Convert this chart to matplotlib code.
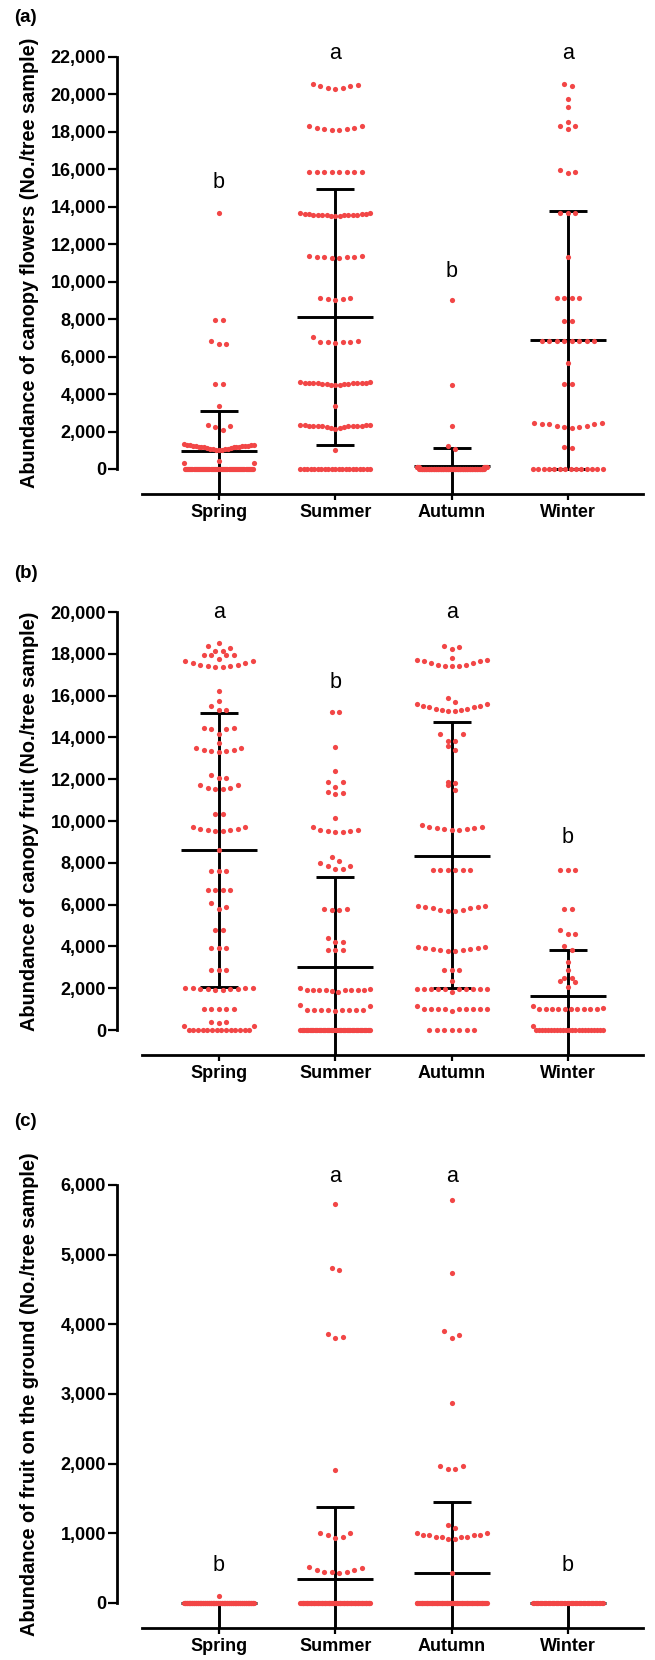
import matplotlib
matplotlib.use("Agg")
import matplotlib.pyplot as plt
import numpy as np

plt.rcParams['font.family'] = ['Liberation Sans', 'DejaVu Sans']

RED = '#F24646'
seasons = ['Spring', 'Summer', 'Autumn', 'Winter']

# (a) canopy flowers: value levels and number of samples at each level
fl_spring_v = [13650, 7950, 6850, 6700, 4550, 3380, 2330, 2300, 2250, 2100, 1310, 1300, 1270, 1240,
               1210, 1180, 1150, 1120, 1090, 1060, 1030, 1000, 430, 310, 0]
fl_spring_n = [1, 2, 1, 2, 2, 1, 1, 1, 1, 1, 1, 2, 2, 2, 3, 3, 3, 2, 2, 2, 2, 1, 1, 2, 65]
fl_summer_v = [20560, 20520, 20430, 20350, 20300, 18320, 18230, 18150, 18100, 15880, 13660, 13620,
               13580, 13540, 13500, 11380, 11340, 11300, 11250, 9130, 9080, 9050, 7040, 6820, 6800,
               6770, 6750, 4620, 4600, 4570, 4540, 4500, 3380, 2350, 2320, 2280, 2230, 2180, 2130,
               1010, 0]
fl_summer_n = [1, 1, 2, 2, 1, 2, 2, 2, 2, 8, 2, 4, 4, 4, 3, 2, 2, 2, 2, 2, 2, 1, 1, 1, 2, 2, 1, 2,
               4, 4, 4, 3, 1, 4, 4, 4, 2, 2, 1, 1, 21]
fl_autumn_v = [9000, 4500, 2300, 1250, 1070, 100, 0]
fl_autumn_n = [1, 1, 1, 1, 1, 8, 92]
fl_winter_v = [20560, 20450, 19740, 19320, 18550, 18320, 18140, 15950, 15850, 15820, 13650, 11340,
               9150, 7900, 6840, 5640, 4540, 2475, 2400, 2300, 2230, 2170, 1190, 1100, 0]
fl_winter_n = [1, 1, 1, 1, 1, 2, 1, 1, 1, 1, 3, 1, 4, 2, 8, 1, 2, 2, 3, 2, 2, 1, 1, 1, 14]
fl_mean = [960, 8105, 160, 6890]
fl_hi = [3110, 14935, 1140, 13770]
fl_lo = [np.nan, 1280, np.nan, 10]
fl_letters = ['b', 'a', 'b', 'a']
fl_letter_y = [15010, 21880, 10270, 21880]

# (b) canopy fruit
fr_spring_v = [18530, 18350, 18260, 18150, 17950, 17730, 17640, 17560, 17480, 17420, 17380, 16240,
               15730, 15480, 15300, 14450, 14380, 14160, 13750, 13480, 13420, 13360, 13320, 12200,
               12040, 11720, 11600, 11510, 10320, 9730, 9640, 9580, 9540, 8610, 7630, 6680, 6100,
               5900, 5800, 4780, 3900, 2870, 2010, 1990, 1970, 1940, 1900, 990, 400, 330, 200, 0]
fr_spring_n = [1, 1, 1, 2, 4, 1, 2, 2, 2, 2, 2, 1, 1, 1, 2, 2, 2, 1, 1, 2, 2, 2, 1, 1, 2, 2, 2, 2,
               2, 2, 2, 2, 2, 1, 3, 4, 1, 1, 1, 2, 3, 3, 2, 2, 2, 2, 2, 5, 2, 1, 2, 14]
fr_summer_v = [15230, 13560, 12390, 11880, 11640, 11400, 11320, 11300, 10130, 9730, 9560, 9520,
               9490, 8270, 8070, 8000, 7830, 7690, 5800, 5750, 4400, 4200, 3850, 2000, 1950, 1900,
               1850, 1800, 1200, 1150, 970, 950, 900, 0]
fr_summer_n = [2, 1, 1, 2, 1, 1, 1, 1, 1, 1, 2, 2, 2, 1, 1, 1, 2, 2, 2, 2, 1, 2, 3, 1, 1, 8, 1, 1,
               1, 1, 2, 6, 1, 54]
fr_autumn_v = [18370, 18310, 18210, 17780, 17700, 17640, 17550, 17480, 17440, 17420, 15900, 15690,
               15580, 15500, 15440, 15380, 15320, 15280, 14160, 13850, 13600, 13400, 11880, 11800,
               11720, 11480, 9810, 9700, 9650, 9600, 9570, 7660, 5950, 5880, 5820, 5760, 5710, 3990,
               3940, 3880, 3840, 3790, 2870, 2360, 1950, 1830, 1150, 990, 900, 0]
fr_autumn_n = [1, 1, 1, 1, 2, 2, 2, 2, 2, 1, 1, 1, 2, 2, 2, 2, 2, 2, 2, 2, 1, 1, 1, 1, 1, 1, 1, 2,
               2, 2, 2, 6, 2, 2, 2, 2, 2, 2, 2, 2, 2, 2, 3, 1, 10, 1, 1, 9, 1, 7]
fr_winter_v = [7660, 5770, 4780, 4590, 4020, 3830, 3270, 2870, 2470, 2350, 2300, 2070, 1150, 1050,
               990, 200, 0]
fr_winter_n = [3, 2, 1, 2, 1, 1, 1, 1, 2, 1, 1, 1, 1, 1, 10, 1, 23]
fr_mean = [8610, 3030, 8340, 1630]
fr_hi = [15180, 7310, 14720, 3830]
fr_lo = [2040, np.nan, 2020, np.nan]
fr_letters = ['a', 'b', 'a', 'b']
fr_letter_y = [19710, 16360, 19710, 8960]

# (c) fruit on the ground
gr_spring_v = [100, 0]
gr_spring_n = [1, 109]
gr_summer_v = [5730, 4810, 4775, 3860, 3820, 3800, 1910, 1000, 970, 950, 940, 510, 500, 470, 450,
               440, 425, 0]
gr_summer_n = [1, 1, 1, 1, 1, 1, 1, 2, 1, 1, 1, 1, 1, 2, 2, 1, 1, 90]
gr_autumn_v = [5790, 4740, 3900, 3840, 3810, 2870, 1970, 1920, 1120, 1080, 1000, 970, 950, 920,
               425, 0]
gr_autumn_n = [1, 1, 1, 1, 1, 1, 2, 2, 1, 1, 2, 4, 4, 2, 1, 85]
gr_winter_v = [0]
gr_winter_n = [53]
gr_mean = [1, 340, 425, 0]
gr_hi = [10, 1375, 1450, 0]
gr_lo = [np.nan, np.nan, np.nan, np.nan]
gr_letters = ['b', 'a', 'a', 'b']
gr_letter_y = [464, 6047, 6047, 464]

panels = [
    dict(tag='(a)', ylabel='Abundance of canopy flowers (No./tree sample)',
         groups=[(fl_spring_v, fl_spring_n), (fl_summer_v, fl_summer_n),
                 (fl_autumn_v, fl_autumn_n), (fl_winter_v, fl_winter_n)],
         mean=fl_mean, hi=fl_hi, lo=fl_lo, letters=fl_letters, letter_y=fl_letter_y,
         ymin=-1335, ymax=22000, step=2000, top=57, bottom=494, tag_y=17),
    dict(tag='(b)', ylabel='Abundance of canopy fruit (No./tree sample)',
         groups=[(fr_spring_v, fr_spring_n), (fr_summer_v, fr_summer_n),
                 (fr_autumn_v, fr_autumn_n), (fr_winter_v, fr_winter_n)],
         mean=fr_mean, hi=fr_hi, lo=fr_lo, letters=fr_letters, letter_y=fr_letter_y,
         ymin=-1196, ymax=20000, step=2000, top=612, bottom=1055, tag_y=573),
    dict(tag='(c)', ylabel='Abundance of fruit on the ground (No./tree sample)',
         groups=[(gr_spring_v, gr_spring_n), (gr_summer_v, gr_summer_n),
                 (gr_autumn_v, gr_autumn_n), (gr_winter_v, gr_winter_n)],
         mean=gr_mean, hi=gr_hi, lo=gr_lo, letters=gr_letters, letter_y=gr_letter_y,
         ymin=-359, ymax=6000, step=1000, top=1185, bottom=1628, tag_y=1121),
]

W, H = 655, 1660
fig = plt.figure(figsize=(W / 100, H / 100), dpi=100)
XMIN, XMAX = -0.877, 3.646


def swarm(ax, xc, vals, counts):
    # prism-like spread: near-equal values share a row, lowest in the middle
    ys = np.sort(np.repeat(vals, counts)).astype(float)
    y_px = ax.bbox.height / (ax.get_ylim()[1] - ax.get_ylim()[0])
    x_px = ax.bbox.width / (ax.get_xlim()[1] - ax.get_xlim()[0])
    thr = 6.5 / y_px
    xs, yy = [], []
    i = 0
    while i < len(ys):
        j = i
        while j < len(ys) and ys[j] - ys[i] <= thr:
            j += 1
        grp = ys[i:j]
        n = len(grp)
        step = 7.5 if n < 2 else min(7.5, 70.0 / (n - 1))
        offs = (np.arange(n) - (n - 1) / 2) * step
        offs = offs[np.lexsort((-offs, np.abs(offs)))]
        xs.extend(xc + offs / x_px)
        yy.extend(grp)
        i = j
    ax.scatter(xs, yy, s=14, color=RED, linewidths=0, zorder=3, clip_on=False)


for p in panels:
    ax = fig.add_axes([117 / W, 1 - p['bottom'] / H, (643 - 117) / W, (p['bottom'] - p['top']) / H])
    ax.set_xlim(XMIN, XMAX)
    ax.set_ylim(p['ymin'], p['ymax'])

    for k, (v, n) in enumerate(p['groups']):
        swarm(ax, k, v, n)
        ax.hlines(p['mean'][k], k - 0.327, k + 0.327, color='k', lw=2.1, zorder=2)
        lo = p['lo'][k] if np.isfinite(p['lo'][k]) else p['ymin']
        ax.vlines(k, lo, p['hi'][k], color='k', lw=2.1, zorder=2)
        ax.hlines(p['hi'][k], k - 0.163, k + 0.163, color='k', lw=2.1, zorder=2)
        if np.isfinite(p['lo'][k]):
            ax.hlines(p['lo'][k], k - 0.163, k + 0.163, color='k', lw=2.1, zorder=2)
        ax.text(k, p['letter_y'][k], p['letters'][k], ha='center', va='baseline',
                fontsize=15.5, clip_on=False)

    for s in ['top', 'right']:
        ax.spines[s].set_visible(False)
    ax.spines['left'].set_bounds(0, p['ymax'])
    ax.spines['bottom'].set_bounds(-0.662, XMAX)
    ax.spines['left'].set_linewidth(2)
    ax.spines['bottom'].set_linewidth(2)

    yt = np.arange(0, p['ymax'] + 1, p['step'])
    ax.set_yticks(yt)
    ax.set_yticklabels([f"{int(t):,}" for t in yt], fontweight='bold')
    ax.set_xticks(range(4))
    ax.set_xticklabels(seasons, fontweight='bold')
    ax.tick_params(axis='y', length=6.5, width=1.6, pad=1.5, labelsize=13)
    ax.tick_params(axis='x', length=4.5, width=1.6, pad=3, labelsize=13)

    mid = (p['top'] + p['bottom'] - 25) / 2
    fig.text(30 / W, 1 - mid / H, p['ylabel'], rotation=90, ha='center', va='center',
             fontsize=14.3, fontweight='bold')
    fig.text(14 / W, 1 - p['tag_y'] / H, p['tag'], ha='left', va='center',
             fontsize=13.5, fontweight='bold')

fig.savefig('out.png', dpi=100)
